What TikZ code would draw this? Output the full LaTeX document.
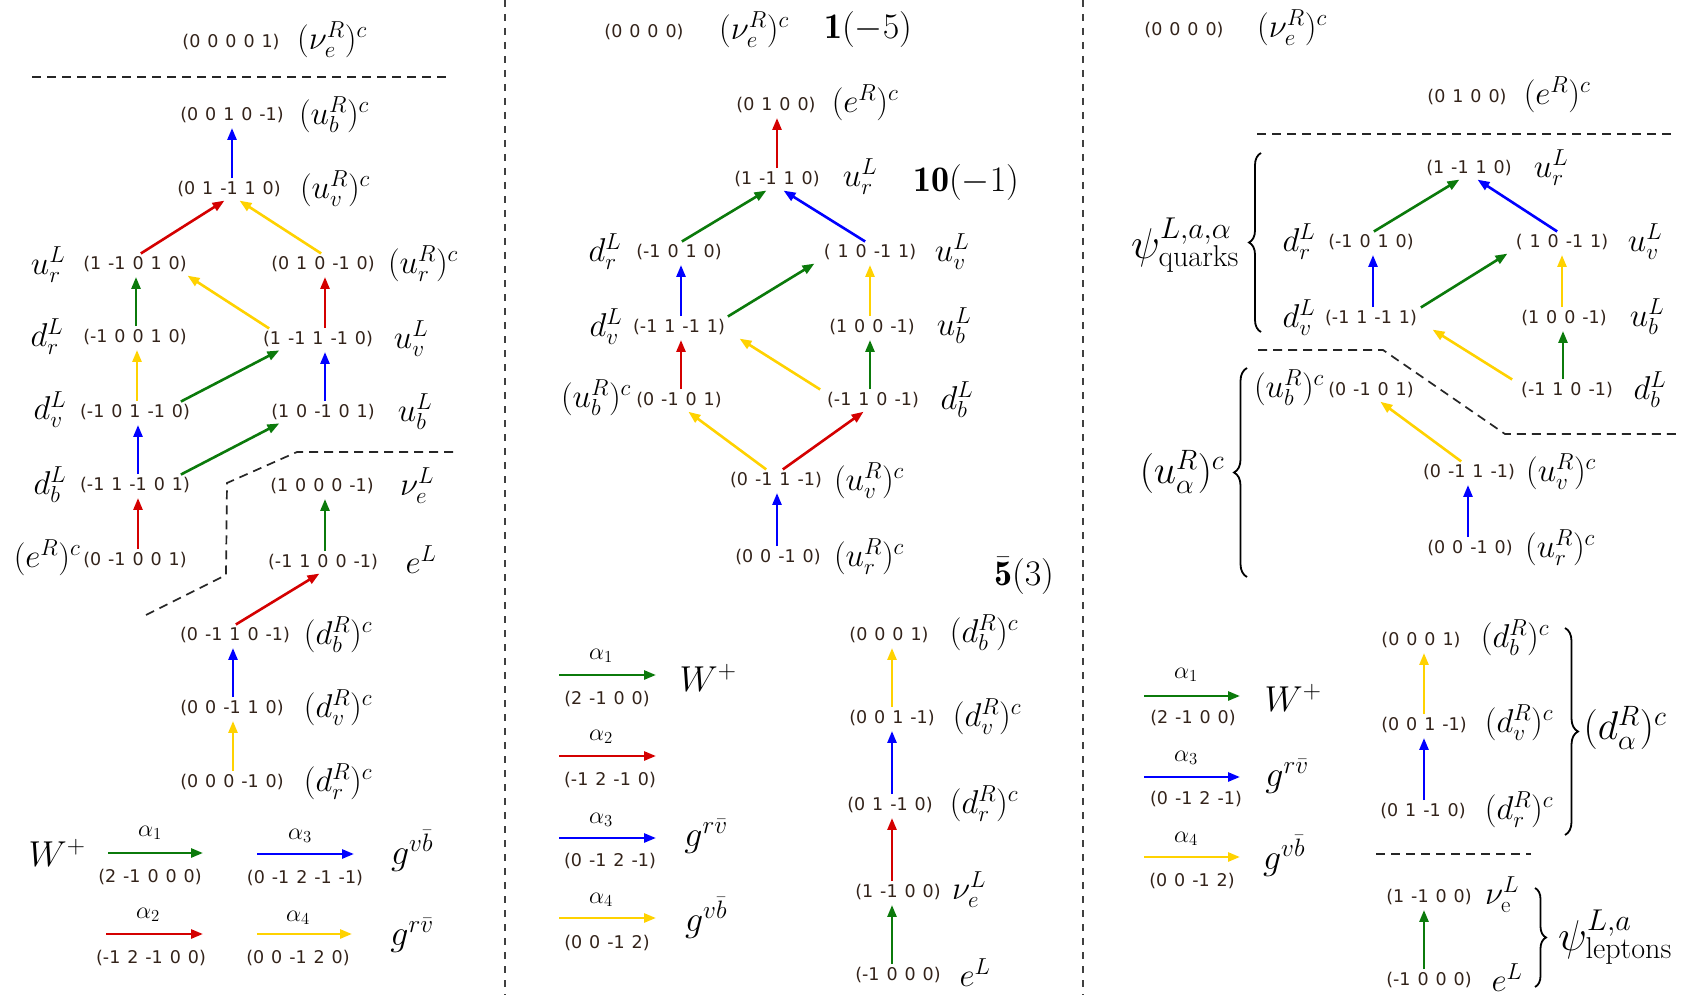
\RequirePackage{fix-cm}
\documentclass[tikz,border=0pt]{standalone}
\usepackage{fontspec}
\newfontfamily\wfont[WordSpace=1.25]{DejaVu Sans}
\usetikzlibrary{arrows.meta,decorations.pathreplacing}
\definecolor{agreen}{HTML}{0B7A0B}
\definecolor{ared}{HTML}{D40000}
\definecolor{ablue}{HTML}{0000FF}
\definecolor{ayellow}{HTML}{FFD200}
\definecolor{wcol}{HTML}{33231A}
\begin{document}
\begin{tikzpicture}[x=1pt,y=-1pt,
  wt/.style={font=\wfont\fontsize{17.5}{20}\selectfont,text=wcol,inner sep=2pt},
  mt/.style={font=\fontsize{33}{40}\selectfont,inner sep=0pt},
  lg/.style={font=\fontsize{36}{42}\selectfont,inner sep=0pt},
  bg/.style={font=\fontsize{36}{42}\selectfont,inner sep=0pt},
  al/.style={font=\fontsize{24}{28}\selectfont,inner sep=0pt},
  ps/.style={font=\fontsize{43}{50}\selectfont,inner sep=0pt},
  pa/.style={font=\fontsize{40}{46}\selectfont,inner sep=0pt},
  arr/.style={line width=2.6pt,-{Triangle[length=12pt,width=9pt]}},
  sh/.style={shorten <=1pt,shorten >=3pt},
  gA/.style={arr,draw=agreen,color=agreen},
  rA/.style={arr,draw=ared,color=ared},
  bA/.style={arr,draw=ablue,color=ablue},
  yA/.style={arr,draw=ayellow,color=ayellow},
  dsh/.style={line width=1.7pt,dash pattern=on 9pt off 6pt,black!85},
  sep/.style={line width=2pt,dash pattern=on 7pt off 7pt,black!75},
  brc/.style={line width=1.8pt,decorate}
]
\fill[white] (0,0) rectangle (1690,995);
\useasboundingbox (0,0) rectangle (1690,995);

% separators
\draw[sep] (505,0) -- (505,995);
\draw[sep] (1083,0) -- (1083,995);

%================ PANEL 1 ================
\node[wt] (a0) at (231,42) {(0 0 0 0 1)};
\node[mt] (la0) at (332,40) {$(\nu_e^R)^c$};
\draw[dsh] (32,77) -- (447,77);

\node[wt] (a1) at (232,115) {(0 0 1 0 -1)};
\node[mt] (la1) at (334,115) {$(u_b^R)^c$};
\node[wt] (a2) at (229,189) {(0 1 -1 1 0)};
\node[mt] (la2) at (335,189) {$(u_v^R)^c$};
\node[wt] (a3) at (135,264) {(1 -1 0 1 0)};
\node[mt] (la3) at (48,265) {$u_r^L$};
\node[wt] (a4) at (323,264) {(0 1 0 -1 0)};
\node[mt] (la4) at (423,264) {$(u_r^R)^c$};
\node[wt] (a5) at (135,337) {(-1 0 0 1 0)};
\node[mt] (la5) at (47,337) {$d_r^L$};
\node[wt] (a6) at (318,339) {(1 -1 1 -1 0)};
\node[mt] (la6) at (411,339) {$u_v^L$};
\node[wt] (a7) at (135,412) {(-1 0 1 -1 0)};
\node[mt] (la7) at (50,410) {$d_v^L$};
\node[wt] (a8) at (323,412) {(1 0 -1 0 1)};
\node[mt] (la8) at (415,412) {$u_b^L$};
\node[wt] (a9) at (135,485) {(-1 1 -1 0 1)};
\node[mt] (la9) at (50,485) {$d_b^L$};
\node[wt] (a10) at (322,486) {(1 0 0 0 -1)};
\node[mt] (la10) at (417,486) {$\nu_e^L$};
\node[wt] (a11) at (135,560) {(0 -1 0 0 1)};
\node[mt] (la11) at (47,558) {$(e^R)^c$};
\node[wt] (a12) at (323,562) {(-1 1 0 0 -1)};
\node[mt] (la12) at (421,560) {$e^L$};
\node[wt] (a13) at (235,635) {(0 -1 1 0 -1)};
\node[mt] (la13) at (338,635) {$(d_b^R)^c$};
\node[wt] (a14) at (232,708) {(0 0 -1 1 0)};
\node[mt] (la14) at (338,708) {$(d_v^R)^c$};
\node[wt] (a15) at (232,782) {(0 0 0 -1 0)};
\node[mt] (la15) at (338,782) {$(d_r^R)^c$};

\draw[bA,sh] ([xshift=3]a2.north) -- ([xshift=0]a1.south);
\draw[rA,sh] ([xshift=5]a3.north) -- ([xshift=-2]a2.south);
\draw[yA,sh] ([xshift=-1]a4.north) -- ([xshift=8]a2.south);
\draw[gA,sh] ([xshift=1]a5.north) -- ([xshift=1]a3.south);
\draw[yA,sh] ([xshift=-48]a6.north) -- ([xshift=50]a3.south);
\draw[rA,sh] ([xshift=7]a6.north) -- ([xshift=2]a4.south);
\draw[yA,sh] ([xshift=2]a7.north) -- ([xshift=2]a5.south);
\draw[gA,sh] ([xshift=45]a7.north) -- ([xshift=-36]a6.south);
\draw[bA,sh] ([xshift=2]a8.north) -- ([xshift=7]a6.south);
\draw[bA,sh] ([xshift=3]a9.north) -- ([xshift=3]a7.south);
\draw[gA,sh] ([xshift=45]a9.north) -- ([xshift=-41]a8.south);
\draw[rA,sh] ([xshift=3]a11.north) -- ([xshift=3]a9.south);
\draw[gA,sh] ([xshift=2]a12.north) -- ([xshift=3]a10.south);
\draw[rA,sh] ([xshift=0]a13.north) -- ([xshift=-1]a12.south);
\draw[bA,sh] ([xshift=1]a14.north) -- ([xshift=-2]a13.south);
\draw[yA,sh] ([xshift=1]a15.north) -- ([xshift=1]a14.south);

\draw[dsh] (453,452) -- (297,452) -- (227,483) -- (226,575) -- (142,617);

% legend panel 1
\node[lg] (W1) at (57,853) {$W^+$};
\coordinate (l1a) at (108,853); \coordinate (l1b) at (203,853);
\draw[gA] (l1a) -- (l1b);
\node[al] (al1) at (150,833) {$\alpha_1$};
\node[wt] (wl1) at (150,877) {(2 -1 0 0 0)};
\coordinate (l3a) at (257,854); \coordinate (l3b) at (354,854);
\draw[bA] (l3a) -- (l3b);
\node[al] (al3) at (300,836) {$\alpha_3$};
\node[wt] (wl3) at (305,878) {(0 -1 2 -1 -1)};
\node[lg] (gvb1) at (412,851) {$g^{v\bar b}$};
\coordinate (l2a) at (106,934); \coordinate (l2b) at (203,934);
\draw[rA] (l2a) -- (l2b);
\node[al] (al2) at (148,915) {$\alpha_2$};
\node[wt] (wl2) at (151,958) {(-1 2 -1 0 0)};
\coordinate (l4a) at (257,934); \coordinate (l4b) at (352,934);
\draw[yA] (l4a) -- (l4b);
\node[al] (al4) at (298,918) {$\alpha_4$};
\node[wt] (wl4) at (298,958) {(0 0 -1 2 0)};
\node[lg] (grv1) at (412,935) {$g^{r\bar v}$};

%================ PANEL 2 ================
\node[wt] (b0) at (644,32) {(0 0 0 0)};
\node[mt] (lb0) at (754,30) {$(\nu_e^R)^c$};
\node[bg] (one) at (868,30) {$\mathbf{1}(-5)$};
\node[wt] (b1) at (776,105) {(0 1 0 0)};
\node[mt] (lb1) at (865,103) {$(e^R)^c$};
\node[wt] (b2) at (777,179) {(1 -1 1 0)};
\node[mt] (lb2) at (860,177) {$u_r^L$};
\node[bg] (ten) at (966,183) {$\mathbf{10}(-1)$};
\node[wt] (b3) at (679,252) {(-1 0 1 0)};
\node[mt] (lb3) at (605,252) {$d_r^L$};
\node[wt] (b4) at (870,252) {( 1 0 -1 1)};
\node[mt] (lb4) at (952,252) {$u_v^L$};
\node[wt] (b5) at (679,327) {(-1 1 -1 1)};
\node[mt] (lb5) at (606,327) {$d_v^L$};
\node[wt] (b6) at (872,327) {(1 0 0 -1)};
\node[mt] (lb6) at (954,326) {$u_b^L$};
\node[wt] (b7) at (679,400) {(0 -1 0 1)};
\node[mt] (lb7) at (596,398) {$(u_b^R)^c$};
\node[wt] (b8) at (873,400) {(-1 1 0 -1)};
\node[mt] (lb8) at (957,400) {$d_b^L$};
\node[wt] (b9) at (776,480) {(0 -1 1 -1)};
\node[mt] (lb9) at (869,481) {$(u_v^R)^c$};
\node[wt] (b10) at (778,557) {(0 0 -1 0)};
\node[mt] (lb10) at (869,557) {$(u_r^R)^c$};
\node[bg] (five) at (1024,576) {$\bar{\mathbf{5}}(3)$};

\draw[rA,sh] ([xshift=0]b2.north) -- ([xshift=1]b1.south);
\draw[gA,sh] ([xshift=2]b3.north) -- ([xshift=-8]b2.south);
\draw[bA,sh] ([xshift=-4]b4.north) -- ([xshift=4]b2.south);
\draw[bA,sh] ([xshift=2]b5.north) -- ([xshift=2]b3.south);
\draw[gA,sh] ([xshift=48]b5.north) -- ([xshift=-53]b4.south);
\draw[yA,sh] ([xshift=-2]b6.north) -- ([xshift=0]b4.south);
\draw[rA,sh] ([xshift=2]b7.north) -- ([xshift=2]b5.south);
\draw[yA,sh] ([xshift=-52]b8.north) -- ([xshift=58]b5.south);
\draw[gA,sh] ([xshift=-3]b8.north) -- ([xshift=-2]b6.south);
\draw[yA,sh] ([xshift=-9]b9.north) -- ([xshift=7]b7.south);
\draw[rA,sh] ([xshift=6]b9.north) -- ([xshift=-7]b8.south);
\draw[bA,sh] ([xshift=-1]b10.north) -- ([xshift=1]b9.south);

% legend panel 2
\coordinate (m1a) at (559,675); \coordinate (m1b) at (656,675);
\draw[gA] (m1a) -- (m1b);
\node[al] (bl1) at (601,656) {$\alpha_1$};
\node[wt] (wm1) at (607,699) {(2 -1 0 0)};
\node[lg] (W2) at (708,678) {$W^+$};
\coordinate (m2a) at (559,756); \coordinate (m2b) at (656,756);
\draw[rA] (m2a) -- (m2b);
\node[al] (bl2) at (601,737) {$\alpha_2$};
\node[wt] (wm2) at (610,780) {(-1 2 -1 0)};
\coordinate (m3a) at (559,838); \coordinate (m3b) at (656,838);
\draw[bA] (m3a) -- (m3b);
\node[al] (bl3) at (601,820) {$\alpha_3$};
\node[wt] (wm3) at (610,861) {(0 -1 2 -1)};
\node[lg] (grv2) at (706,836) {$g^{r\bar v}$};
\coordinate (m4a) at (559,918); \coordinate (m4b) at (656,918);
\draw[yA] (m4a) -- (m4b);
\node[al] (bl4) at (601,900) {$\alpha_4$};
\node[wt] (wm4) at (607,943) {(0 0 -1 2)};
\node[lg] (gvb2) at (706,918) {$g^{v\bar b}$};

% 5bar column
\node[wt] (c1) at (889,635) {(0 0 0 1)};
\node[mt] (lc1) at (984,633) {$(d_b^R)^c$};
\node[wt] (c2) at (892,718) {(0 0 1 -1)};
\node[mt] (lc2) at (987,717) {$(d_v^R)^c$};
\node[wt] (c3) at (890,805) {(0 1 -1 0)};
\node[mt] (lc3) at (984,804) {$(d_r^R)^c$};
\node[wt] (c4) at (898,892) {(1 -1 0 0)};
\node[mt] (lc4) at (969,890) {$\nu_e^L$};
\node[wt] (c5) at (898,975) {(-1 0 0 0)};
\node[mt] (lc5) at (975,973) {$e^L$};
\draw[yA,sh] ([xshift=0]c2.north) -- ([xshift=3]c1.south);
\draw[bA,sh] ([xshift=2]c3.north) -- ([xshift=0]c2.south);
\draw[rA,sh] ([xshift=-6]c4.north) -- ([xshift=2]c3.south);
\draw[gA,sh] ([xshift=-6]c5.north) -- ([xshift=-6]c4.south);

%================ PANEL 3 ================
\node[wt] (d0) at (1184,30) {(0 0 0 0)};
\node[mt] (ld0) at (1292,28) {$(\nu_e^R)^c$};
\node[wt] (d1) at (1467,97) {(0 1 0 0)};
\node[mt] (ld1) at (1557,95) {$(e^R)^c$};
\draw[dsh] (1257,134) -- (1672,134);
\node[wt] (d2) at (1469,168) {(1 -1 1 0)};
\node[mt] (ld2) at (1551,168) {$u_r^L$};
\node[wt] (d3) at (1371,242) {(-1 0 1 0)};
\node[mt] (ld3) at (1299,242) {$d_r^L$};
\node[wt] (d4) at (1562,242) {( 1 0 -1 1)};
\node[mt] (ld4) at (1645,242) {$u_v^L$};
\node[wt] (d5) at (1371,318) {(-1 1 -1 1)};
\node[mt] (ld5) at (1299,318) {$d_v^L$};
\node[wt] (d6) at (1564,318) {(1 0 0 -1)};
\node[mt] (ld6) at (1647,317) {$u_b^L$};
\node[wt] (d7) at (1371,390) {(0 -1 0 1)};
\node[mt] (ld7) at (1289,388) {$(u_b^R)^c$};
\node[wt] (d8) at (1567,390) {(-1 1 0 -1)};
\node[mt] (ld8) at (1650,390) {$d_b^L$};
\node[wt] (d9) at (1469,472) {(0 -1 1 -1)};
\node[mt] (ld9) at (1561,472) {$(u_v^R)^c$};
\node[wt] (d10) at (1470,548) {(0 0 -1 0)};
\node[mt] (ld10) at (1560,548) {$(u_r^R)^c$};

\draw[gA,sh] ([xshift=2]d3.north) -- ([xshift=-7]d2.south);
\draw[bA,sh] ([xshift=-4]d4.north) -- ([xshift=6]d2.south);
\draw[bA,sh] ([xshift=2]d5.north) -- ([xshift=2]d3.south);
\draw[gA,sh] ([xshift=49]d5.north) -- ([xshift=-52]d4.south);
\draw[yA,sh] ([xshift=-2]d6.north) -- ([xshift=0]d4.south);
\draw[yA,sh] ([xshift=-54]d8.north) -- ([xshift=59]d5.south);
\draw[gA,sh] ([xshift=-4]d8.north) -- ([xshift=-1]d6.south);
\draw[yA,sh] ([xshift=-7]d9.north) -- ([xshift=7]d7.south);
\draw[bA,sh] ([xshift=-2]d10.north) -- ([xshift=-1]d9.south);

\draw[dsh] (1258,350) -- (1383,350) -- (1505,434) -- (1678,434);

\node[ps] (psq) at (1185,245) {$\psi^{L,a,\alpha}_{\mathrm{quarks}}$};
\coordinate (bq1) at (1261,332); \coordinate (bq2) at (1261,153);
\draw[brc,decoration={brace,amplitude=12pt}] (bq1) -- (bq2);
\node[pa] (ua) at (1182,472) {$(u_\alpha^R)^c$};
\coordinate (bu1) at (1247,577); \coordinate (bu2) at (1247,368);
\draw[brc,decoration={brace,amplitude=13pt}] (bu1) -- (bu2);

% legend panel 3
\coordinate (n1a) at (1144,696); \coordinate (n1b) at (1240,696);
\draw[gA] (n1a) -- (n1b);
\node[al] (cl1) at (1186,675) {$\alpha_1$};
\node[wt] (wn1) at (1193,718) {(2 -1 0 0)};
\node[lg] (W3) at (1293,698) {$W^+$};
\coordinate (n3a) at (1144,777); \coordinate (n3b) at (1240,777);
\draw[bA] (n3a) -- (n3b);
\node[al] (cl3) at (1186,758) {$\alpha_3$};
\node[wt] (wn3) at (1196,799) {(0 -1 2 -1)};
\node[lg] (grv3) at (1287,776) {$g^{r\bar v}$};
\coordinate (n4a) at (1144,857); \coordinate (n4b) at (1240,857);
\draw[yA] (n4a) -- (n4b);
\node[al] (cl4) at (1186,839) {$\alpha_4$};
\node[wt] (wn4) at (1192,881) {(0 0 -1 2)};
\node[lg] (gvb3) at (1284,856) {$g^{v\bar b}$};

% d column
\node[wt] (e1) at (1421,640) {(0 0 0 1)};
\node[mt] (le1) at (1515,638) {$(d_b^R)^c$};
\node[wt] (e2) at (1424,725) {(0 0 1 -1)};
\node[mt] (le2) at (1519,723) {$(d_v^R)^c$};
\node[wt] (e3) at (1423,811) {(0 1 -1 0)};
\node[mt] (le3) at (1519,810) {$(d_r^R)^c$};
\draw[yA,sh] ([xshift=0]e2.north) -- ([xshift=3]e1.south);
\draw[bA,sh] ([xshift=1]e3.north) -- ([xshift=0]e2.south);
\coordinate (bd1) at (1565,628); \coordinate (bd2) at (1565,835);
\draw[brc,decoration={brace,amplitude=13pt}] (bd1) -- (bd2);
\node[pa] (da) at (1625,728) {$(d_\alpha^R)^c$};
\draw[dsh] (1376,854) -- (1531,854);
\node[wt] (e4) at (1429,897) {(1 -1 0 0)};
\node[mt] (le4) at (1502,895) {$\nu_{\mathrm{e}}^L$};
\node[wt] (e5) at (1429,980) {(-1 0 0 0)};
\node[mt] (le5) at (1507,978) {$e^L$};
\draw[gA,sh] ([xshift=-5]e5.north) -- ([xshift=-5]e4.south);
\coordinate (bl1c) at (1535,888); \coordinate (bl2c) at (1535,987);
\draw[brc,decoration={brace,amplitude=11pt}] (bl1c) -- (bl2c);
\node[ps] (psl) at (1615,937) {$\psi^{L,a}_{\mathrm{leptons}}$};
\end{tikzpicture}
\end{document}
